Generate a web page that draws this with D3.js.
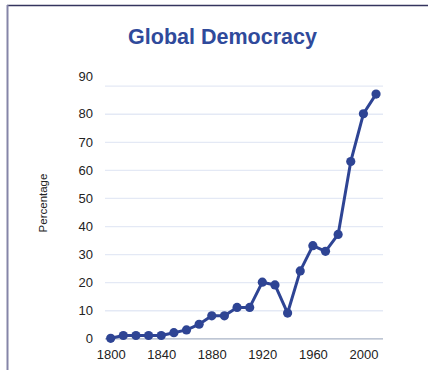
<!DOCTYPE html>
<html>
<head>
<meta charset="utf-8">
<script src="https://cdn.jsdelivr.net/npm/d3@7/dist/d3.min.js"></script>
<style>
  html, body { margin: 0; padding: 0; background: #fff; }
  svg { display: block; font-family: "Liberation Sans", Arial, sans-serif; }
</style>
</head>
<body>
<svg id="chart" width="428" height="370"></svg>
<script>
// Share of world population living in democracies, by decade
const years = [1800, 1810, 1820, 1830, 1840, 1850, 1860, 1870, 1880, 1890, 1900,
               1910, 1920, 1930, 1940, 1950, 1960, 1970, 1980, 1990, 2000, 2010];
const percentages = [0, 1, 1, 1, 1, 2, 3, 5, 8, 8, 11,
                     11, 20, 19, 9, 24, 33, 31, 37, 63, 80, 87];
const xTickValues = [1800, 1840, 1880, 1920, 1960, 2000];
const yTickValues = [0, 10, 20, 30, 40, 50, 60, 70, 80, 90];

const svg = d3.select("#chart");
const lineColor = "#2e4494";

// frame
svg.append("line").attr("x1", 7).attr("x2", 428).attr("y1", 5.5).attr("y2", 5.5)
  .attr("stroke", "#34345e").attr("stroke-width", 1.5);
svg.append("line").attr("x1", 7.5).attr("x2", 7.5).attr("y1", 5).attr("y2", 370)
  .attr("stroke", "#8585a8").attr("stroke-width", 2);

// title
svg.append("text").attr("x", 222.5).attr("y", 44)
  .attr("text-anchor", "middle").attr("font-size", 21.5).attr("font-weight", "bold")
  .attr("fill", "#2f4a9b").text("Global Democracy");

const x = d3.scaleLinear().domain([1795.5, 2015.5]).range([105, 383]);
const y = d3.scaleLinear().domain([0, 90]).range([338.3, 85.7]);

// horizontal grid
const grid = svg.append("g").attr("transform", "translate(105,0)")
  .call(d3.axisLeft(y).tickValues(yTickValues).tickSize(-278).tickFormat(""));
grid.select(".domain").remove();
grid.selectAll(".tick line").attr("stroke", d => d === 0 ? "#a9b3c6" : "#e4e9f5")
  .attr("stroke-width", 1.3);

// y tick labels
const yAxis = svg.append("g").attr("transform", "translate(93,0)")
  .call(d3.axisLeft(y).tickValues(yTickValues).tickSize(0).tickPadding(0));
yAxis.select(".domain").remove();
yAxis.selectAll("text").attr("font-size", 13).attr("fill", "#222")
  .attr("font-family", "Liberation Sans, Arial, sans-serif")
  .attr("dy", d => d === 90 ? "-0.38em" : "0.32em");

// x tick labels
const xAxis = svg.append("g").attr("transform", "translate(0,349.5)")
  .call(d3.axisBottom(x).tickValues(xTickValues).tickSize(0).tickPadding(0).tickFormat(d3.format("d")));
xAxis.select(".domain").remove();
xAxis.selectAll("text").attr("font-size", 13).attr("fill", "#222")
  .attr("font-family", "Liberation Sans, Arial, sans-serif");

// y axis title
svg.append("text").attr("transform", "translate(47,203) rotate(-90)")
  .attr("text-anchor", "middle").attr("font-size", 11.5).attr("fill", "#222")
  .text("Percentage");

const data = years.map((yr, i) => ({ year: yr, value: percentages[i] }));

svg.append("path").datum(data)
  .attr("fill", "none").attr("stroke", lineColor).attr("stroke-width", 3)
  .attr("stroke-linejoin", "round")
  .attr("d", d3.line().x(d => x(d.year)).y(d => y(d.value)));

svg.append("g").selectAll("circle").data(data).join("circle")
  .attr("cx", d => x(d.year)).attr("cy", d => y(d.value)).attr("r", 4.6)
  .attr("fill", lineColor);
</script>
</body>
</html>
